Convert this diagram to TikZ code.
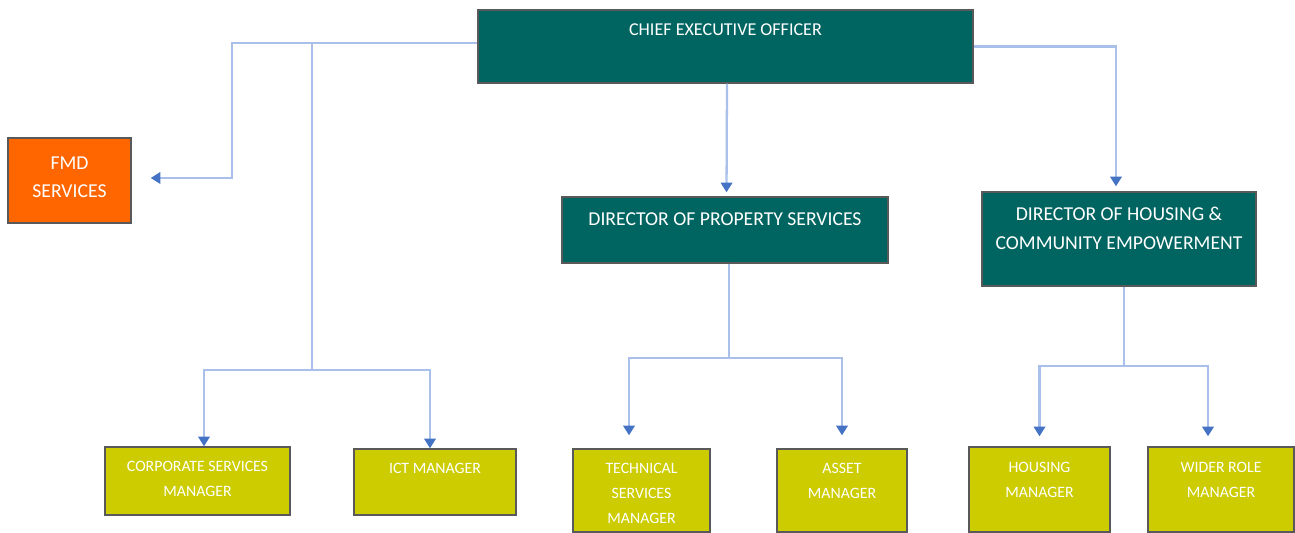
\documentclass[tikz,border=0pt]{standalone}
\usepackage{fontspec}
\setmainfont{Carlito}
\usetikzlibrary{arrows.meta}
\definecolor{boardteal}{HTML}{006461}
\definecolor{fmdorange}{HTML}{FF6600}
\definecolor{mgryellow}{HTML}{CCCC00}
\definecolor{wireblue}{HTML}{A9C0EA}
\definecolor{tipblue}{HTML}{4472C4}
\tikzset{
  box/.style 2 args={draw=black!65, line width=0.8pt, inner sep=0pt,
    minimum width=#1*0.02cm, minimum height=#2*0.02cm},
  txt/.style={anchor=north, align=center, inner sep=0pt, text=white},
  wire/.style={draw=wireblue, line width=1.3pt},
  tip/.style={-{Triangle[length=5.5pt, width=6.5pt, color=tipblue, fill=tipblue]}},
}
\begin{document}
\begin{tikzpicture}[x=0.02cm, y=-0.02cm]
\useasboundingbox (0,0) rectangle (1295,533);

% boxes, at pixel positions
\node[box={495}{73}, fill=boardteal] (ceo) at (725.5,46.5) {};
\node[box={123}{85}, fill=fmdorange] (fmd) at (69.5,180.5) {};
\node[box={326}{66}, fill=boardteal] (pdir) at (725,230) {};
\node[box={274}{94}, fill=boardteal] (hdir) at (1119,239) {};
\node[box={185}{68}, fill=mgryellow] (corp) at (197.5,481) {};
\node[box={162}{66}, fill=mgryellow] (ict) at (435,482) {};
\node[box={137}{83}, fill=mgryellow] (tech) at (641.5,490.5) {};
\node[box={130}{83}, fill=mgryellow] (asset) at (842,490.5) {};
\node[box={141}{85}, fill=mgryellow] (hmgr) at (1039.5,489.5) {};
\node[box={146}{85}, fill=mgryellow] (wider) at (1221,489.5) {};

% texts
\node[txt, font=\fontsize{10.3}{15}\selectfont] (ceo txt) at ([yshift=-0.28cm]ceo.north) {CHIEF EXECUTIVE OFFICER};
\node[txt, font=\fontsize{11.2}{16}\selectfont] (fmd txt) at ([yshift=-0.38cm]fmd.north) {FMD\\SERVICES};
\node[txt, font=\fontsize{11.2}{17}\selectfont] (pdir txt) at ([yshift=-0.32cm]pdir.north) {DIRECTOR OF PROPERTY SERVICES};
\node[txt, font=\fontsize{11.2}{17}\selectfont] (hdir txt) at ([yshift=-0.3cm]hdir.north) {DIRECTOR OF HOUSING \&\\COMMUNITY EMPOWERMENT};
\node[txt, font=\fontsize{9}{14.2}\selectfont] (corp txt) at ([yshift=-0.29cm]corp.north) {CORPORATE SERVICES\\MANAGER};
\node[txt, font=\fontsize{9}{14.2}\selectfont] (ict txt) at ([yshift=-0.3cm]ict.north) {ICT MANAGER};
\node[txt, font=\fontsize{9}{14.2}\selectfont] (tech txt) at ([yshift=-0.3cm]tech.north) {TECHNICAL\\SERVICES\\MANAGER};
\node[txt, font=\fontsize{9}{14.2}\selectfont] (asset txt) at ([yshift=-0.3cm]asset.north) {ASSET\\MANAGER};
\node[txt, font=\fontsize{9}{14.2}\selectfont] (hmgr txt) at ([yshift=-0.31cm]hmgr.north) {HOUSING\\MANAGER};
\node[txt, font=\fontsize{9}{14.2}\selectfont] (wider txt) at ([yshift=-0.31cm]wider.north) {WIDER ROLE\\MANAGER};

% bends of the connectors
\coordinate (fmd bend) at (232,178);
\coordinate (staff top) at (312,43);
\coordinate (staff bus) at (312,370);
\coordinate (prop bus) at (729,358);
\coordinate (hous bus) at (1124,366);

% connectors
\draw[wire, tip, shorten >=0.38cm] ([yshift=0.07cm]ceo.west) -| (fmd bend) -- (fmd.east |- fmd bend);
\draw[wire] (staff top) -- (staff bus);
\draw[wire, tip] (staff bus) -| ([xshift=0.13cm]corp.north);
\draw[wire, tip] (staff bus) -| ([xshift=-0.1cm]ict.north);
\draw[wire, tip, shorten >=0.08cm] ([xshift=0.03cm]ceo.south) -- ([xshift=0.03cm]pdir.north);
\draw[wire, tip, shorten >=0.1cm] (ceo.east) -| ([xshift=-0.06cm]hdir.north);
\draw[wire] (pdir.south -| prop bus) -- (prop bus);
\draw[wire, tip, shorten >=0.26cm] (prop bus) -| ([xshift=-0.25cm]tech.north);
\draw[wire, tip, shorten >=0.26cm] (prop bus) -| (asset.north);
\draw[wire] (hdir.south -| hous bus) -- (hous bus);
\draw[wire, tip, shorten >=0.2cm] (hous bus) -| (hmgr.north);
\draw[wire, tip, shorten >=0.2cm] (hous bus) -| ([xshift=-0.26cm]wider.north);
\end{tikzpicture}
\end{document}
